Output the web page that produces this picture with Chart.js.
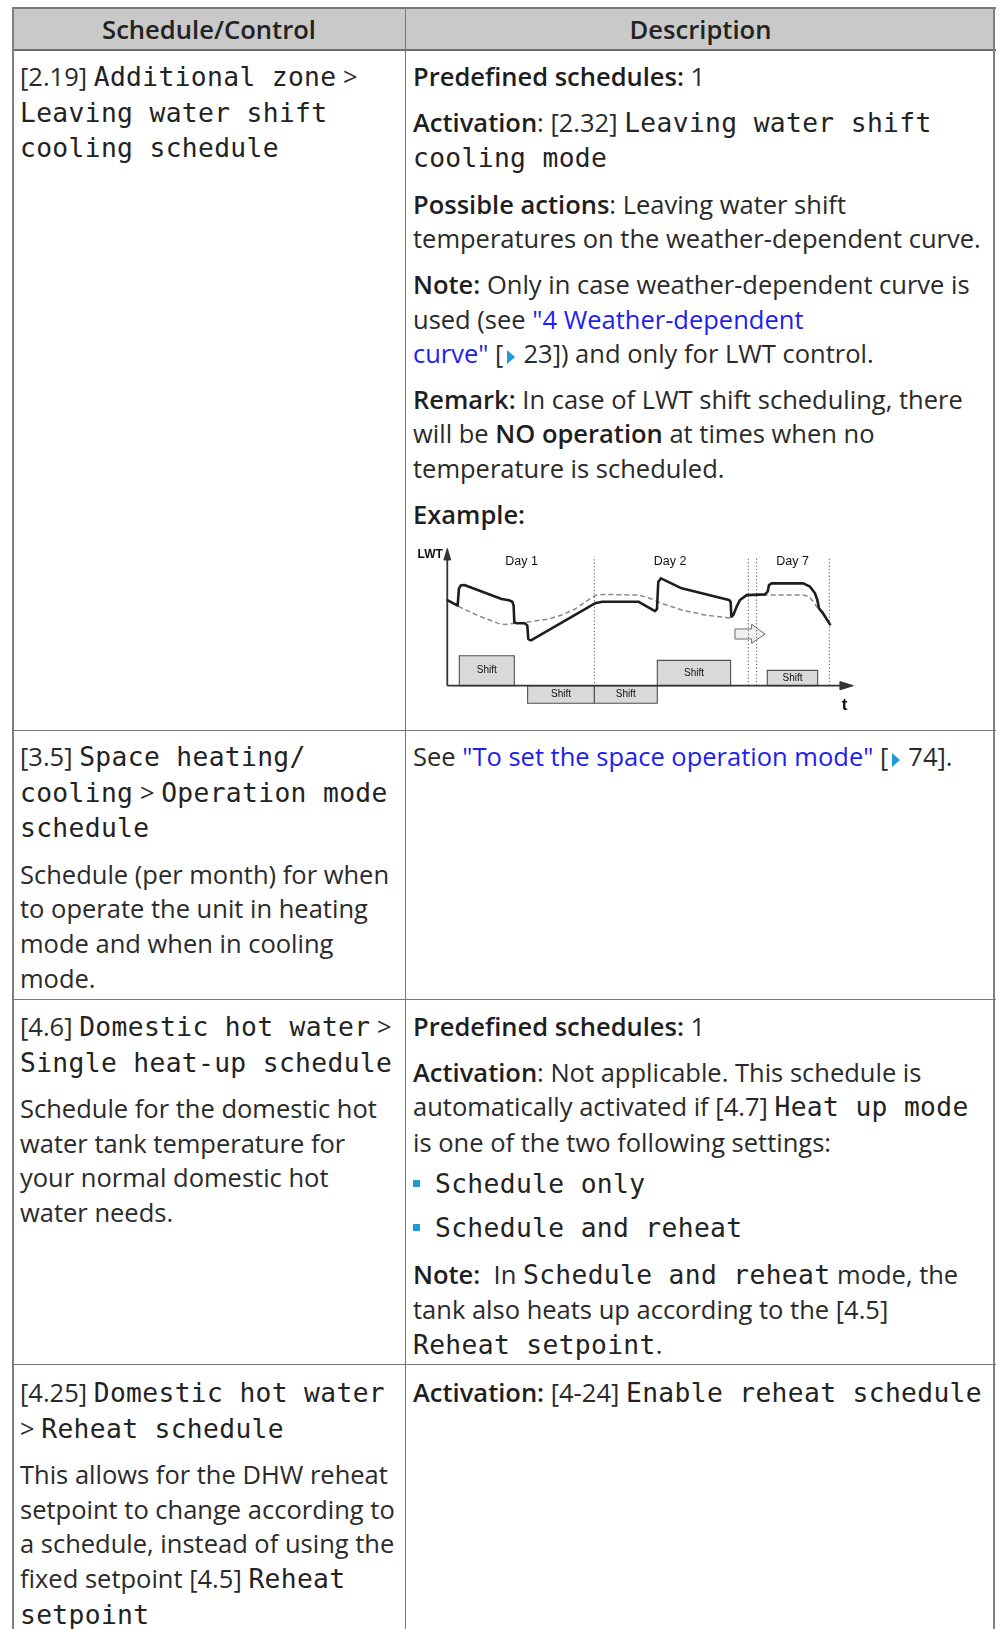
<!DOCTYPE html>
<html>
<head>
<meta charset="utf-8">
<script src="https://cdn.jsdelivr.net/npm/chart.js@4.4.1/dist/chart.umd.min.js"></script>
<style>
  html, body { margin:0; padding:0; background:#fff; }
  #page { position:relative; width:1000px; height:1629px; overflow:hidden;
          font-family:"Open Sans", sans-serif; font-weight:400; font-size:25.5px; color:#2a2a2a; }
  .ln { position:absolute; background:#808080; }
  .hdr { position:absolute; top:8px; height:42px; background:#c9c9c9; }
  .htxt { position:absolute; top:8px; height:42px; line-height:44px; text-align:center;
          font-weight:600; font-size:25.6px; color:#222; }
  .cell { position:absolute; line-height:34.6px; white-space:nowrap; }
  .cell p { margin:0 0 11px 0; }
  .m { font-family:"DejaVu Sans Mono", monospace; font-size:26.3px; letter-spacing:0.35px; color:#222; }
  b { font-weight:600; color:#1e1e1e; }
  a { color:#1e1ef0; text-decoration:none; }
  .tri { display:inline-block; width:0; height:0; border-left:8px solid #1e9bd7;
         border-top:7px solid transparent; border-bottom:7px solid transparent; margin:0 8px 0 4px; vertical-align:-1px; }
  .bul { display:inline-block; width:7px; height:7px; background:#1e9bd7; margin-right:15px; vertical-align:6px; }
  #chartBox { position:absolute; left:410px; top:538px; width:455px; height:180px; }
</style>
</head>
<body>
<div id="page">
  <div class="hdr" style="left:12px;width:983px;"></div>
  <div class="htxt" style="left:12px;width:394px;">Schedule/Control</div>
  <div class="htxt" style="left:406px;width:589px;">Description</div>

  <!-- grid lines -->
  <div class="ln" style="left:12px;top:7px;width:984px;height:2px;background:#777;"></div>
  <div class="ln" style="left:12px;top:49px;width:984px;height:2px;background:#6e6e6e;"></div>
  <div class="ln" style="left:12px;top:7px;width:2px;height:1622px;"></div>
  <div class="ln" style="left:993px;top:7px;width:2px;height:1622px;"></div>
  <div class="ln" style="left:405px;top:7px;width:1px;height:1622px;background:#777;"></div>
  <div class="ln" style="left:12px;top:730px;width:984px;height:1px;background:#777;"></div>
  <div class="ln" style="left:12px;top:999px;width:984px;height:1px;background:#777;"></div>
  <div class="ln" style="left:12px;top:1364px;width:984px;height:1px;background:#777;"></div>

  <!-- Row 1 -->
  <div class="cell" style="left:20px;top:59px;">
    <p>[2.19] <span class="m">Additional zone</span> &gt;<br><span class="m">Leaving water shift</span><br><span class="m">cooling schedule</span></p>
  </div>
  <div class="cell" style="left:413px;top:59px;">
    <p><b>Predefined schedules:</b> 1</p>
    <p><b>Activation</b>: [2.32] <span class="m">Leaving water shift</span><br><span class="m">cooling mode</span></p>
    <p><b>Possible actions</b>: Leaving water shift<br>temperatures on the weather-dependent curve.</p>
    <p><b>Note:</b> Only in case weather-dependent curve is<br>used (see <a>"4 Weather-dependent<br>curve"</a> [<span class="tri"></span>23]) and only for LWT control.</p>
    <p><b>Remark:</b> In case of LWT shift scheduling, there<br>will be <b>NO operation</b> at times when no<br>temperature is scheduled.</p>
    <p><b>Example:</b></p>
  </div>
  <div id="chartBox"><canvas id="c" width="455" height="180"></canvas></div>

  <!-- Row 2 -->
  <div class="cell" style="left:20px;top:739px;">
    <p>[3.5] <span class="m">Space heating/</span><br><span class="m">cooling</span> &gt; <span class="m">Operation mode</span><br><span class="m">schedule</span></p>
    <p>Schedule (per month) for when<br>to operate the unit in heating<br>mode and when in cooling<br>mode.</p>
  </div>
  <div class="cell" style="left:413px;top:739px;">
    <p>See <a>"To set the space operation mode"</a> [<span class="tri"></span>74].</p>
  </div>

  <!-- Row 3 -->
  <div class="cell" style="left:20px;top:1009px;">
    <p>[4.6] <span class="m">Domestic hot water</span> &gt;<br><span class="m">Single heat-up schedule</span></p>
    <p>Schedule for the domestic hot<br>water tank temperature for<br>your normal domestic hot<br>water needs.</p>
  </div>
  <div class="cell" style="left:413px;top:1009px;">
    <p><b>Predefined schedules:</b> 1</p>
    <p style="margin-bottom:7px;"><b>Activation</b>: Not applicable. This schedule is<br>automatically activated if [4.7] <span class="m">Heat up mode</span><br>is one of the two following settings:</p>
    <p style="margin-bottom:8px;"><span class="bul"></span><span class="m">Schedule only</span></p>
    <p style="margin-bottom:11px;"><span class="bul"></span><span class="m">Schedule and reheat</span></p>
    <p><b>Note:</b>&nbsp; In <span class="m">Schedule and reheat</span> mode, the<br>tank also heats up according to the [4.5]<br><span class="m">Reheat setpoint</span>.</p>
  </div>

  <!-- Row 4 -->
  <div class="cell" style="left:20px;top:1375px;">
    <p>[4.25] <span class="m">Domestic hot water</span><br>&gt; <span class="m">Reheat schedule</span></p>
    <p>This allows for the DHW reheat<br>setpoint to change according to<br>a schedule, instead of using the<br>fixed setpoint [4.5] <span class="m">Reheat</span><br><span class="m">setpoint</span></p>
  </div>
  <div class="cell" style="left:413px;top:1375px;">
    <p><b>Activation:</b> [4-24] <span class="m">Enable reheat schedule</span></p>
  </div>
</div>

<script>
// ---- Chart data (time units along t, LWT units upward) ----
const solidX = [0, 2.55, 2.88, 3.37, 4.19, 13.39, 15.20, 16.02, 16.35, 16.52, 17.17, 19.15, 19.72, 19.97, 20.62,
  36.40, 38.21, 47.08, 51.19, 51.68, 52.01, 52.67, 57.76, 69.43, 69.84, 70.01, 70.50, 71.32, 72.14, 73.79,
  78.31, 78.96, 79.29, 79.95, 87.76, 89.40, 90.63, 91.21, 91.62, 92.44, 94.33];
const solidY = [62.2, 58.1, 70.7, 72.9, 73.1, 62.9, 62.0, 61.0, 58.1, 46.0, 45.3, 45.3, 43.6, 33.9, 32.9,
  59.8, 61.0, 61.0, 54.2, 55.7, 75.5, 77.9, 70.7, 62.2, 61.0, 50.1, 51.3, 57.4, 62.2, 65.8,
  66.3, 68.3, 73.1, 74.3, 74.3, 71.9, 67.1, 62.2, 56.2, 53.3, 44.5];

const dashedX = [2.71, 7.64, 12.98, 14.22, 19.15, 24.90, 28.18, 31.47, 34.35, 36.40, 38.21, 47.08, 49.55,
  52.84, 57.76, 63.52, 70.49, 72.0, 73.79, 87.76, 89.16, 90.22, 91.21];
const dashedY = [57.6, 50.8, 44.8, 44.5, 46.0, 48.4, 51.3, 55.7, 61.5, 65.4, 66.3, 65.8, 63.9,
  59.8, 55.0, 51.3, 48.9, null, 65.8, 65.8, 64.6, 61.0, 56.6];

const shiftLabel = 'Shift';
const shiftStart = [2.96, 19.80, 36.24, 51.77, 78.88];
const shiftEnd   = [16.52, 36.24, 51.77, 69.84, 91.29];
const shiftLevel = [21.8, -12.8, -12.8, 18.4, 11.1];

const dayLabels = ['Day 1', 'Day 2', 'Day 7'];
const dayLabelX = [18.3, 54.9, 85.1];
const dayLabelY = 90.0;

const dividerX      = [36.24, 74.20, 76.25, 94.17];
const dividerBottom = [-12.8, 0, 0, 0];
const dividerTop    = 93.7;

const axisTitleY = 'LWT';
const axisTitleX = 't';
const tMax = 100.08;   // tip of the time axis
const lwtMax = 99.7;   // tip of the LWT axis

// hollow "shift in time" arrow
const moveArrowX = [70.91, 75.02, 75.02, 78.31, 75.02, 75.02, 70.91, 70.91];
const moveArrowY = [41.2, 41.2, 44.6, 37.5, 30.8, 33.9, 33.9, 41.2];

// ---- build datasets ----
const pts = (xs, ys) => xs.map((x, i) => ({ x: x, y: ys[i] }));
const datasets = [];

// axes
datasets.push({ data: [{x:0,y:0},{x:tMax-3.3,y:0}], borderColor:'#333', borderWidth:1.8, order:1 });
datasets.push({ data: [{x:0,y:0},{x:0,y:lwtMax-8.4}], borderColor:'#333', borderWidth:1.8, order:1 });
datasets.push({ data: [{x:tMax-3.3,y:3.0},{x:tMax,y:0},{x:tMax-3.3,y:-3.0},{x:tMax-3.3,y:3.0}],
  fill:'shape', backgroundColor:'#333', borderColor:'#333', borderWidth:1, order:1 });
datasets.push({ data: [{x:-0.85,y:lwtMax-8.4},{x:0,y:lwtMax},{x:0.85,y:lwtMax-8.4},{x:-0.85,y:lwtMax-8.4}],
  fill:'shape', backgroundColor:'#333', borderColor:'#333', borderWidth:1, order:1 });

// curves
datasets.push({ data: pts(solidX, solidY), borderColor:'#1e1e1e', borderWidth:2.6, borderJoinStyle:'round',
  borderCapStyle:'round', order:2 });
datasets.push({ data: pts(dashedX, dashedY), borderColor:'#8a8a8a', borderWidth:1.5, borderDash:[5,3],
  spanGaps:false, order:3 });

// dividers
dividerX.forEach((dx, i) => {
  datasets.push({ data: [{x:dx,y:dividerBottom[i]},{x:dx,y:dividerTop}], borderColor:'#555', borderWidth:1,
    borderDash:[1.2,2.2], order:4 });
});

// move arrow
datasets.push({ data: pts(moveArrowX, moveArrowY), fill:'shape', backgroundColor:'#efefef',
  borderColor:'#6a6a6a', borderWidth:1, tension:0, order:5 });

// shift boxes
shiftStart.forEach((s, i) => {
  const e = shiftEnd[i], l = shiftLevel[i];
  datasets.push({ data: [{x:s,y:0},{x:s,y:l},{x:e,y:l},{x:e,y:0},{x:s,y:0}], fill:'shape',
    backgroundColor:'#d9d9d9', borderColor:'#505050', borderWidth:1.1, order:6 });
});

const textPlugin = {
  id: 'texts',
  afterDatasetsDraw(chart) {
    const ctx = chart.ctx, xs = chart.scales.x, ys = chart.scales.y;
    ctx.save();
    ctx.fillStyle = '#111';
    ctx.textBaseline = 'middle';
    // Shift labels
    ctx.font = '10px "Liberation Sans", Arial, sans-serif';
    ctx.textAlign = 'center';
    shiftStart.forEach((s, i) => {
      const cx = xs.getPixelForValue((s + shiftEnd[i]) / 2);
      const cy = ys.getPixelForValue(shiftLevel[i] / 2);
      ctx.fillText(shiftLabel, cx, cy);
    });
    // Day labels
    ctx.font = '12.5px "Liberation Sans", Arial, sans-serif';
    dayLabels.forEach((d, i) => {
      ctx.fillText(d, xs.getPixelForValue(dayLabelX[i]), ys.getPixelForValue(dayLabelY));
    });
    // axis titles
    ctx.font = 'bold 12px "Liberation Sans", Arial, sans-serif';
    ctx.textAlign = 'right';
    ctx.fillText(axisTitleY, xs.getPixelForValue(-1.1), ys.getPixelForValue(95.4));
    ctx.font = 'bold 17px "Liberation Sans", Arial, sans-serif';
    ctx.textAlign = 'center';
    ctx.fillText(axisTitleX, xs.getPixelForValue(97.9), ys.getPixelForValue(-14.2));
    ctx.restore();
  }
};

new Chart(document.getElementById('c'), {
  type: 'line',
  data: { datasets: datasets },
  options: {
    responsive: false,
    animation: false,
    events: [],
    layout: { padding: 0 },
    elements: { point: { radius: 0, hoverRadius: 0 }, line: { tension: 0, fill: false } },
    scales: {
      x: { type: 'linear', min: -9.194, max: 102.96, display: false },
      y: { type: 'linear', min: -23.46, max: 107.26, display: false }
    },
    plugins: { legend: { display: false }, tooltip: { enabled: false } },
    datasets: { line: { clip: false } }
  },
  plugins: [textPlugin]
});
</script>
</body>
</html>
